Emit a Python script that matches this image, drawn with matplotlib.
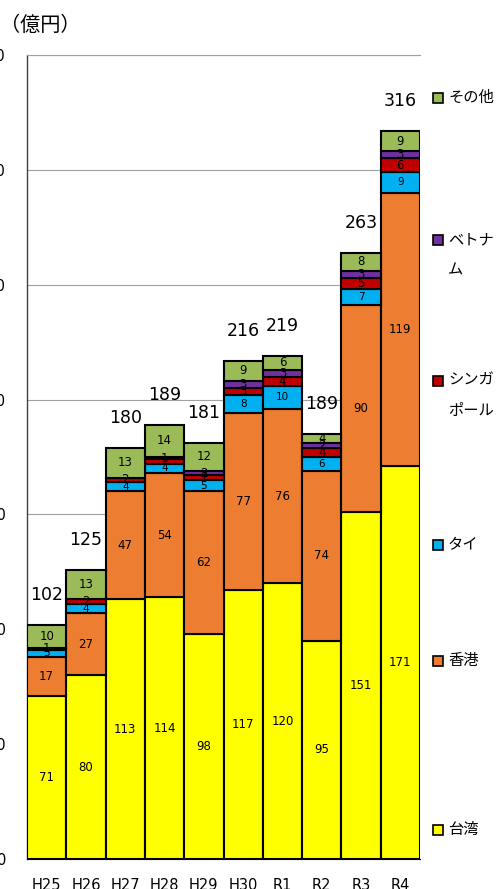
import matplotlib
matplotlib.use("Agg")
import matplotlib.pyplot as plt
from matplotlib.patches import Rectangle
import numpy as np

plt.rcParams['font.family'] = ['DejaVu Sans', 'Noto Sans CJK JP']

years = ['H25', 'H26', 'H27', 'H28', 'H29', 'H30', 'R1', 'R2', 'R3', 'R4']
taiwan = [71, 80, 113, 114, 98, 117, 120, 95, 151, 171]
hongkong = [17, 27, 47, 54, 62, 77, 76, 74, 90, 119]
thailand = [3, 4, 4, 4, 5, 8, 10, 6, 7, 9]
singapore = [1, 2, 2, 2, 2, 3, 4, 4, 5, 6]
vietnam = [0, 0, 0, 1, 2, 3, 3, 2, 3, 3]
others = [10, 13, 13, 14, 12, 9, 6, 4, 8, 9]
totals = [102, 125, 180, 189, 181, 216, 219, 189, 263, 316]

series_names = ['台湾', '香港', 'タイ', 'シンガ\nポール', 'ベトナ\nム', 'その他']
series_values = [taiwan, hongkong, thailand, singapore, vietnam, others]
colors = ['#FFFF00', '#ED7D31', '#00B0F0', '#C00000', '#7030A0', '#9BBB59']
label_sizes = [8.5, 8.5, 7.5, 8.5, 8.5, 8.5]

W, H = 500, 889
fig = plt.figure(figsize=(W / 100, H / 100), dpi=100)
ax = fig.add_axes([27 / W, 30 / H, (420 - 27) / W, (859 - 55) / H])

x = np.arange(len(years))
bottom = np.zeros(len(years))
for vals, col, fs in zip(series_values, colors, label_sizes):
    vals = np.array(vals, dtype=float)
    ax.bar(x, vals, bottom=bottom, width=1.0, color=col,
           edgecolor='black', linewidth=1.5, zorder=3)
    for xi, b, v in zip(x, bottom, vals):
        if v > 0:
            ax.text(xi, b + v / 2, f"{int(v)}", ha='center', va='center',
                    fontsize=fs, color='black', zorder=4)
    bottom += vals

for xi, top, t in zip(x, bottom, totals):
    ax.annotate(f"{t}", (xi, top), xytext=(0, 15), textcoords='offset points',
                ha='center', va='bottom', fontsize=12.5, color='black')

ax.set_xlim(-0.5, len(years) - 0.5)
ax.set_ylim(0, 350)
ax.set_yticks(np.arange(0, 351, 50))
ax.set_xticks(x)
ax.set_xticklabels(years)
ax.tick_params(axis='both', length=0, labelsize=10.5)
ax.tick_params(axis='y', pad=15)
ax.tick_params(axis='x', pad=13.5)
ax.yaxis.grid(True, color='#A0A0A0', linewidth=0.8, zorder=0)
ax.set_axisbelow(True)

ax.spines['right'].set_visible(False)
ax.spines['top'].set_color('#A0A0A0')
ax.spines['top'].set_linewidth(0.8)
ax.spines['left'].set_color('#404040')
ax.spines['left'].set_linewidth(1.0)
ax.spines['bottom'].set_color('black')

fig.text(0 / W, 1 - 25 / H, '（億円）', fontsize=14.5, ha='left', va='center',
         family=['Noto Sans CJK JP', 'DejaVu Sans'])

# legend entries laid out down the right-hand side
legend_rows = [
    ('その他', '#9BBB59', 98),
    ('ベトナ\nム', '#7030A0', 240),
    ('シンガ\nポール', '#C00000', 381),
    ('タイ', '#00B0F0', 545),
    ('香港', '#ED7D31', 661),
    ('台湾', '#FFFF00', 830),
]
for name, col, yc in legend_rows:
    fig.add_artist(Rectangle((433 / W, 1 - (yc + 5) / H), 10 / W, 10 / H,
                             facecolor=col, edgecolor='black', linewidth=1.2,
                             transform=fig.transFigure))
    fig.text(448 / W, 1 - (yc - 9) / H, name, fontsize=11, ha='left', va='top',
             linespacing=2.0, family=['Noto Sans CJK JP', 'DejaVu Sans'])

fig.savefig('out.png', dpi=100)
